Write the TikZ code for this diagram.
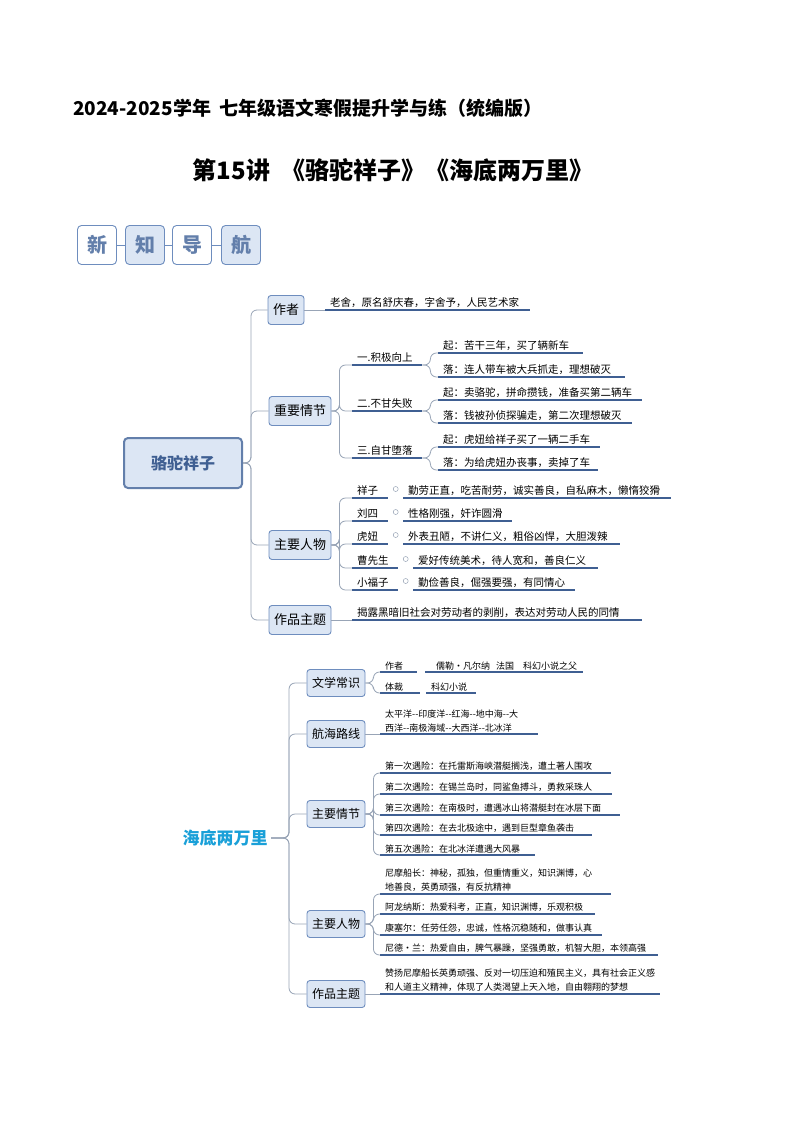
\documentclass[tikz,border=0pt]{standalone}
\usepackage{fontspec}
\setmainfont{Noto Sans CJK SC}
\usetikzlibrary{positioning,calc}
\definecolor{boxfill}{HTML}{DCE6F4}
\definecolor{boxline}{HTML}{6E8DBE}
\definecolor{uline}{HTML}{3F5F92}
\definecolor{spinec}{HTML}{98A4B6}
\definecolor{rootblue}{HTML}{1AA0D8}
\tikzset{
  branch/.style={draw=boxline, fill=boxfill, rounded corners=3, line width=0.9pt, inner xsep=5, minimum height=29, font=\fontsize{13}{15}\selectfont},
  branchs/.style={branch, minimum height=27, font=\fontsize{12}{14}\selectfont},
  leaf/.style={anchor=south west, inner xsep=5, inner ysep=2.5, align=left, font=\fontsize{10.5}{12.5}\selectfont,
    append after command={(\tikzlastnode.south west) edge[draw=uline, line width=1.3pt] (\tikzlastnode.south east)}},
  leafs/.style={leaf, inner ysep=2, font=\fontsize{9}{14}\selectfont},
  conn/.style={draw=spinec, line width=0.8pt, rounded corners=6},
  badge/.style={draw=boxline, rounded corners=4, line width=0.9pt, minimum width=39, minimum height=39, font=\fontsize{20}{22}\selectfont\bfseries, text=boxline!90!black},
}
\begin{document}
\begin{tikzpicture}[x=1pt, y=-1pt]
\useasboundingbox (0,0) rectangle (794,1123);
% titles
\node[font=\fontsize{19}{21}\selectfont\bfseries] (title) at (308,108) {2024-2025学年\ \ 七年级语文寒假提升学与练（统编版）};
\node[font=\fontsize{24}{26}\selectfont\bfseries] (lecture) at (393,170) {第15讲\ \ 《骆驼祥子》《海底两万里》};

% badges
\node[badge, fill=white] (b1) at (97,245) {新};
\node[badge, fill=boxfill] (b2) at (145,245) {知};
\node[badge, fill=white] (b3) at (192,245) {导};
\node[badge, fill=boxfill] (b4) at (241,245) {航};
\foreach \a/\b in {b1/b2,b2/b3,b3/b4} \draw[boxline, line width=0.9pt] (\a) -- (\b);

% ---------- map 1
\node[draw=boxline!90!black, fill=boxfill, rounded corners=4, line width=2pt, minimum width=118, minimum height=50, font=\fontsize{16}{18}\selectfont\bfseries, text=uline] (camel) at (183,463) {骆驼祥子};

\node[branch] (author) at (286,310) {作者};
\node[branch] (plot) at (300,411) {重要情节};
\node[branch] (people) at (300,545) {主要人物};
\node[branch] (theme) at (300,620) {作品主题};
\foreach \b in {author,plot,people,theme} \draw[conn] (camel.east) -- ++(8,0) |- (\b.west);

\node[leaf, text width=195] (authtxt) at (325,310) {老舍，原名舒庆春，字舍予，人民艺术家};
\draw[conn] (author.east) -- (authtxt.south west);

\node[leaf, text width=60] (p1) at (352,365) {一.积极向上};
\node[leaf, text width=60] (p2) at (352,411) {二.不甘失败};
\node[leaf, text width=60] (p3) at (352,458) {三.自甘堕落};
\foreach \p in {p1,p2,p3} \draw[conn] (plot.east) -- ++(8,0) |- (\p.south west);

\node[leaf, text width=135] (p1a) at (438,353) {起：苦干三年，买了辆新车};
\node[leaf, text width=177] (p1b) at (438,377) {落：连人带车被大兵抓走，理想破灭};
\node[leaf, text width=194] (p2a) at (438,400) {起：卖骆驼，拼命攒钱，准备买第二辆车};
\node[leaf, text width=184] (p2b) at (438,423) {落：钱被孙侦探骗走，第二次理想破灭};
\node[leaf, text width=152] (p3a) at (438,447) {起：虎妞给祥子买了一辆二手车};
\node[leaf, text width=150] (p3b) at (438,470) {落：为给虎妞办丧事，卖掉了车};
\foreach \s/\l in {p1/p1a,p1/p1b,p2/p2a,p2/p2b,p3/p3a,p3/p3b} \draw[conn] (\s.south east) -- ++(8,0) |- (\l.south west);

\foreach \n/\t/\w/\y/\dx/\d/\dw in {
  c1/祥子/26/498/403/勤劳正直，吃苦耐劳，诚实善良，自私麻木，懒惰狡猾/258,
  c2/刘四/26/521/403/性格刚强，奸诈圆滑/99,
  c3/虎妞/26/544/403/外表丑陋，不讲仁义，粗俗凶悍，大胆泼辣/207,
  c4/曹先生/36/568/413/爱好传统美术，待人宽和，善良仁义/175,
  c5/小福子/36/590/413/勤俭善良，倔强要强，有同情心/152}{
  \node[leaf, text width=\w] (\n) at (352,\y) {\t};
  \node[leaf, text width=\dw] (\n d) at (\dx,\y) {\d};
  \draw[conn] (people.east) -- ++(8,0) |- (\n.south west);
  \draw[spinec, line width=0.5pt] ($(\n.south east)!0.5!(\n d.south west)+(0,-9)$) circle (2.5);
}
\node[leaf, text width=280] (themetxt) at (352,620) {揭露黑暗旧社会对劳动者的剥削，表达对劳动人民的同情};
\draw[conn] (theme.east) -- (themetxt.south west);

% ---------- map 2
\node[font=\fontsize{17}{19}\selectfont\bfseries, text=rootblue] (sea) at (225,838) {海底两万里};
\node[branchs] (lit) at (336,683) {文学常识};
\node[branchs] (route) at (336,734) {航海路线};
\node[branchs] (plot2) at (336,814) {主要情节};
\node[branchs] (people2) at (336,924) {主要人物};
\node[branchs] (theme2) at (336,994) {作品主题};
\foreach \b in {lit,route,plot2,people2,theme2} \draw[conn] (sea.east) -- ++(18,0) |- (\b.west);

\node[leafs, text width=27] (lit1) at (380,672) {作者};
\node[leafs, text width=148] (lit1d) at (425,672) {\ \ 儒勒·凡尔纳\ \ 法国\ \ \ 科幻小说之父};
\node[leafs, text width=30] (lit2) at (380,693) {体裁};
\node[leafs, text width=40] (lit2d) at (426,693) {科幻小说};
\foreach \l in {lit1,lit2} \draw[conn] (lit.east) -- ++(8,0) |- (\l.south west);

\node[leafs, text width=148] (routetxt) at (380,734) {太平洋-{}-印度洋-{}-红海-{}-地中海-{}-大\\西洋-{}-南极海域-{}-大西洋-{}-北冰洋};
\draw[conn] (route.east) -- (routetxt.south west);

\foreach \n/\y/\w/\t in {
  e1/773/221/第一次遇险：在托雷斯海峡潜艇搁浅，遭土著人围攻,
  e2/794/222/第二次遇险：在锡兰岛时，同鲨鱼搏斗，勇救采珠人,
  e3/815/230/第三次遇险：在南极时，遭遇冰山将潜艇封在冰层下面,
  e4/835/202/第四次遇险：在去北极途中，遇到巨型章鱼袭击,
  e5/855/145/第五次遇险：在北冰洋遭遇大风暴}{
  \node[leafs, text width=\w] (\n) at (380,\y) {\t};
  \draw[conn] (plot2.east) -- ++(8,0) |- (\n.south west);
}
\foreach \n/\y/\w/\t in {
  h1/894/221/{尼摩船长：神秘，孤独，但重情重义，知识渊博，心\\地善良，英勇顽强，有反抗精神},
  h2/914/205/阿龙纳斯：热爱科考，正直，知识渊博，乐观积极,
  h3/935/212/康塞尔：任劳任怨，忠诚，性格沉稳随和，做事认真,
  h4/955/268/尼德•兰：热爱自由，脾气暴躁，坚强勇敢，机智大胆，本领高强}{
  \node[leafs, text width=\w] (\n) at (380,\y) {\t};
  \draw[conn] (people2.east) -- ++(8,0) |- (\n.south west);
}
\node[leafs, text width=270] (theme2txt) at (380,994) {赞扬尼摩船长英勇顽强、反对一切压迫和殖民主义，具有社会正义感\\和人道主义精神，体现了人类渴望上天入地，自由翱翔的梦想};
\draw[conn] (theme2.east) -- (theme2txt.south west);
\end{tikzpicture}
\end{document}
